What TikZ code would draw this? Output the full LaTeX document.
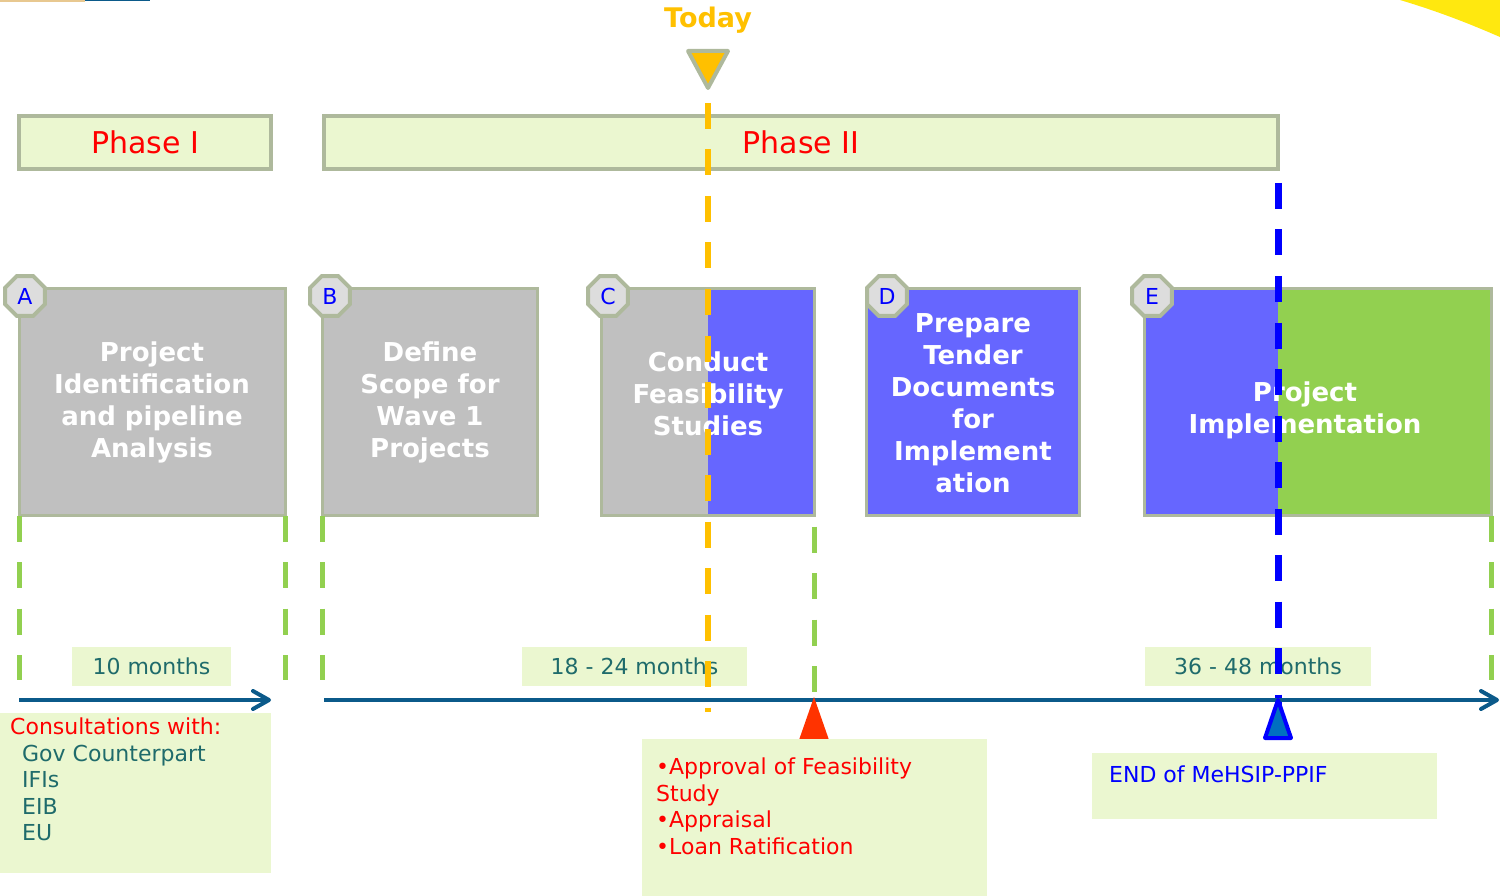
\documentclass[tikz,border=0pt]{standalone}
\usepackage{fontspec}
\setmainfont{DejaVu Sans}
\usetikzlibrary{shapes.geometric,arrows.meta}
\definecolor{notefill}{HTML}{EBF7D0}
\definecolor{rim}{HTML}{AEB99C}
\definecolor{octfill}{HTML}{DDDDDD}
\definecolor{stagegray}{HTML}{C0C0C0}
\definecolor{stageblue}{HTML}{6666FF}
\definecolor{stagegreen}{HTML}{92D050}
\definecolor{todayorange}{HTML}{FFC000}
\definecolor{monthteal}{HTML}{1F6B6B}
\definecolor{axisblue}{HTML}{0B5A8A}
\definecolor{endblue}{HTML}{0070C0}
\definecolor{approvalred}{HTML}{FF3300}
\definecolor{swoosh}{HTML}{FFE80F}
\definecolor{stripsand}{HTML}{E8C890}
\tikzset{
    phasebox/.style={draw=rim,line width=4pt,fill=notefill,minimum height=53pt,inner sep=0pt,outer sep=0pt,text=red,font=\fontsize{30}{34}\selectfont},
    stagebox/.style={draw=rim,line width=3pt,minimum height=227pt,inner sep=0pt,outer sep=0pt},
    stagetext/.style={text=white,align=center,inner sep=0pt,font=\bfseries\fontsize{26}{32}\selectfont},
    octlabel/.style={regular polygon,regular polygon sides=8,minimum size=43pt,inner sep=0pt,draw=rim,line width=4pt,fill=octfill,text=blue,font=\fontsize{22}{26}\selectfont},
    monthbox/.style={fill=notefill,minimum height=39pt,inner sep=0pt,text=monthteal,font=\fontsize{22}{26}\selectfont},
    notebox/.style={fill=notefill,inner sep=0pt,anchor=north west},
    notetext/.style={anchor=north west,align=left,inner sep=0pt,font=\fontsize{22}{26.5}\selectfont},
    gap/.style={stagegreen,line width=5pt,dash pattern=on 26pt off 20.5pt},
    todayline/.style={todayorange,line width=6pt,dash pattern=on 26pt off 20.5pt},
    endline/.style={blue,line width=7pt,dash pattern=on 26pt off 20.5pt},
    axis/.style={axisblue,line width=4pt,->},
    >={Straight Barb[length=16pt,width=18pt,round]},
}
\begin{document}
\begin{tikzpicture}[x=1pt,y=-1pt]
    \useasboundingbox (0,0) rectangle (1500,896);
    \fill[swoosh] (1400,0) .. controls (1440,12) and (1470,24) .. (1500,37) -- (1500,0) -- cycle;
    \fill[stripsand] (0,0) rectangle (85,2);
    \fill[axisblue] (85,0) rectangle (150,1.5);
    \node[phasebox,minimum width=252pt] (phaseone) at (145,142.5) {Phase I};
    \node[phasebox,minimum width=954pt] (phasetwo) at (801,142.5) {Phase II};
    \node[stagebox,fill=stagegray,minimum width=266pt] (sa) at (152,402) {};
    \node[stagebox,fill=stagegray,minimum width=215pt] (sb) at (430,402) {};
    \node[stagebox,fill=stagegray,minimum width=213pt,path picture={\fill[stageblue] (path picture bounding box.north) rectangle (path picture bounding box.south east);}] (sc) at (708,402) {};
    \node[stagebox,fill=stageblue,minimum width=213pt] (sd) at (973,402) {};
    \node[stagebox,fill=stageblue,minimum width=347pt,path picture={\fill[stagegreen] ([xshift=133.5pt]path picture bounding box.north west) rectangle (path picture bounding box.south east);}] (se) at (1318,402) {};
    \node[stagetext] (ta) at (sa) {Project\\Identification\\and pipeline\\Analysis};
    \node[stagetext] (tb) at (sb) {Define\\Scope for\\Wave 1\\Projects};
    \node[stagetext] (tc) at ([yshift=8pt]sc.center) {Conduct\\Feasibility\\Studies};
    \node[stagetext] (td) at ([yshift=-1pt]sd.center) {Prepare\\Tender\\Documents\\for\\Implement\\ation};
    \node[stagetext] (te) at ([xshift=-13pt,yshift=-8pt]se.center) {Project\\Implementation};
    \node[octlabel] (oa) at (25,296) {A};
    \node[octlabel] (ob) at (330,296) {B};
    \node[octlabel] (oc) at (608,296) {C};
    \node[octlabel] (od) at (887,296) {D};
    \node[octlabel] (oe) at (1152,296) {E};
    \node[monthbox,minimum width=159pt] (mone) at (151.5,666.5) {10 months};
    \node[monthbox,minimum width=225pt] (mtwo) at (634.5,666.5) {18 - 24 months};
    \node[monthbox,minimum width=226pt] (mthree) at (1258,666.5) {36 - 48 months};
    \foreach \n in {sa.south west,sa.south east,sb.south west,se.south east}{
        \draw[gap] (\n) -- ++(0,164.5);
    }
    \draw[gap] ([yshift=-11pt]sc.south east) -- ++(0,166);
    \node[font=\bfseries\fontsize{27}{30}\selectfont,text=todayorange,anchor=base] (today) at (708,28) {Today};
    \coordinate (todaytip) at (708,88);
    \coordinate (todaytop) at (708,103);
    \coordinate (todayend) at (708,712);
    \filldraw[draw=rim,fill=todayorange,line width=4pt,line join=round] (688,51) -- (728,51) -- (todaytip) -- cycle;
    \draw[todayline] (todaytop) -- (todayend);
    \coordinate (endtop) at (1278,183);
    \coordinate (endmark) at (1278,700);
    \coordinate (endfoot) at (1278,740);
    \draw[endline] (endtop) -- (endfoot);
    \coordinate (axisa) at (19,700);
    \coordinate (axisb) at (271,700);
    \coordinate (axisc) at (324,700);
    \coordinate (axisd) at (1499,700);
    \draw[axis] (axisa) -- (axisb);
    \draw[axis] (axisc) -- (axisd);
    \fill[approvalred] (814,697) -- (829,740) -- (799,740) -- cycle;
    \filldraw[draw=blue,fill=endblue,line width=4pt,line join=round] (endmark) -- (1291,738) -- (1265,738) -- cycle;
    \node[notebox,minimum width=271pt,minimum height=160pt] (consbox) at (0,713) {};
    \node[notetext,text=monthteal] (cons) at (10,718) {\textcolor{red}{Consultations with:}\\\hspace*{12pt}Gov Counterpart\\\hspace*{12pt}IFIs\\\hspace*{12pt}EIB\\\hspace*{12pt}EU};
    \node[notebox,minimum width=345pt,minimum height=157pt] (apprbox) at (642,739) {};
    \node[notetext,text=red] (appr) at (656,758) {•Approval of Feasibility\\Study\\•Appraisal\\•Loan Ratification};
    \node[notebox,minimum width=345pt,minimum height=66pt] (endbox) at (1092,753) {};
    \node[notetext,text=blue] (endnote) at (1109,766) {END of MeHSIP-PPIF};
\end{tikzpicture}
\end{document}
